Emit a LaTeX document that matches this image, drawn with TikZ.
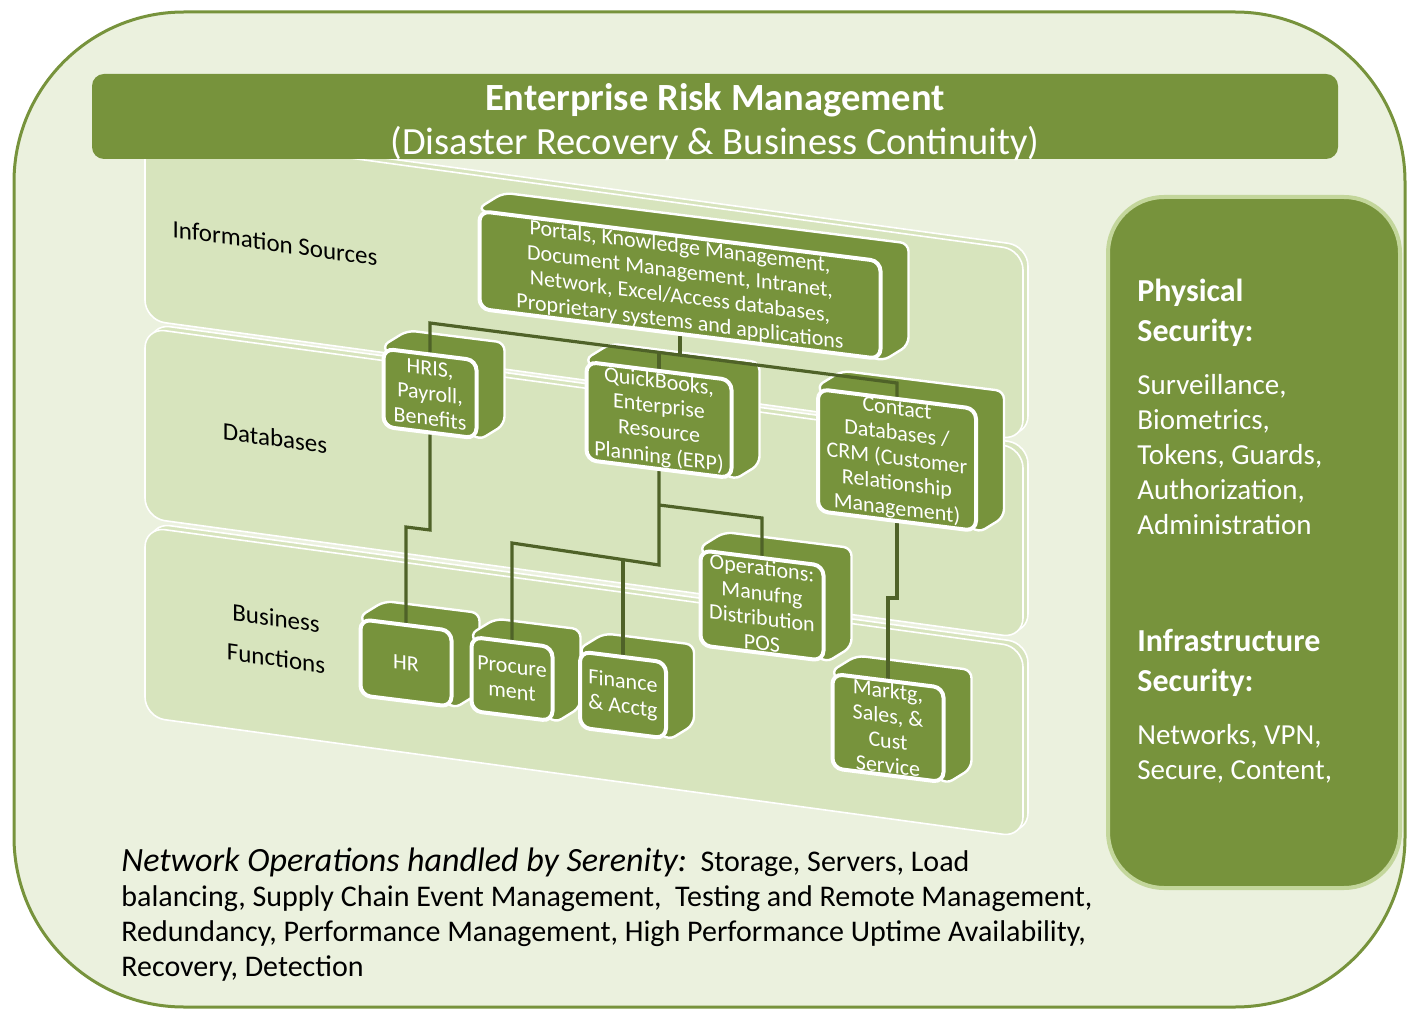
\documentclass[tikz,border=0pt]{standalone}
\usepackage{fontspec}
\setmainfont{Carlito}
\usetikzlibrary{calc}

\definecolor{ermgreen}{HTML}{77933C}
\definecolor{ermdark}{HTML}{4F6228}
\definecolor{ermpanel}{HTML}{D7E4BD}
\definecolor{ermbg}{HTML}{EBF1DE}
\definecolor{ermrim}{HTML}{C3D69B}

\pgfdeclarelayer{bg}
\pgfdeclarelayer{back}
\pgfdeclarelayer{wires}
\pgfsetlayers{bg,back,wires,main}

\tikzset{
  cube/.style={draw=white, line width=2pt, fill=ermgreen, rounded corners=5pt,
    text=white, align=center, inner sep=1pt, yslant=-0.125,
    font=\fontsize{11}{12.5}\selectfont},
  backface/.style={draw=white, line width=1.2pt, fill=ermgreen, rounded corners=4pt},
  wire/.style={draw=ermdark, line width=1.6pt},
  layer/.style={fill=ermpanel, draw=white, line width=0.8pt, rounded corners=10pt},
  tag/.style={text=black, align=center, inner sep=0pt, yslant=-0.14,
    font=\fontsize{12.5}{20}\selectfont},
  sechead/.style={text=white, align=left, inner sep=0pt,
    font=\bfseries\fontsize{16}{20}\selectfont},
  seclist/.style={text=white, align=left, inner sep=0pt,
    font=\fontsize{14.5}{17.5}\selectfont},
}

\begin{document}
\begin{tikzpicture}[x=0.5pt,y=-0.5pt]
  \useasboundingbox (0,0) rectangle (1408,1010);

  \begin{pgfonlayer}{bg}
    % Outer frame
    \draw[draw=ermgreen, fill=ermbg, line width=1.5pt, rounded corners=85pt]
      (14,12) rectangle (1405,1007);

    % For each layer ...
    \foreach \t in {130,328,527} {
      \draw[layer] (150,\t-4) -- (1028,\t+116) -- (1028,\t+306) -- (150,\t+186) -- cycle;
      \draw[layer] (145,\t) -- (1023,\t+120) -- (1023,\t+310) -- (145,\t+190) -- cycle;
    }
  \end{pgfonlayer}

  % Title bar
  \node[fill=ermgreen, rounded corners=6pt, minimum width=623pt, minimum height=42.5pt]
    (titlebar) at (715,116.5) {};
  \node[inner sep=0pt, text=white, align=center, font=\fontsize{19.25}{22}\selectfont]
    (title) at (715,122)
    {\textbf{Enterprise Risk Management}\\(Disaster Recovery \& Business Continuity)};

  % Layer labels
  \node[tag] (infotag) at (275,243) {Information Sources};
  \node[tag] (dbtag)   at (275,438) {Databases};
  \node[tag] (bftag)   at (276,638) {Business\\Functions};

  % Information sources
  \node[cube, minimum width=200.5pt, minimum height=46.5pt] (info) at (680,285)
    {Portals, Knowledge Management,\\Document Management, Intranet,\\
     Network, Excel/Access databases,\\Proprietary systems and applications};

  % Databases
  \node[cube, minimum width=46.5pt, minimum height=39pt] (hris) at (430,393.5)
    {HRIS,\\Payroll,\\Benefits};
  \node[cube, minimum width=72.5pt, minimum height=47pt] (qb) at (659,420)
    {QuickBooks,\\Enterprise\\Resource\\Planning (ERP)};
  \node[cube, minimum width=79pt, minimum height=54pt] (contact) at (897,460)
    {Contact\\Databases /\\CRM (Customer\\Relationship\\Management)};

  % Business functions
  \node[cube, minimum width=61.5pt, minimum height=47.5pt] (ops) at (762,605.5)
    {Operations:\\Manufng\\Distribution\\POS};
  \node[cube, minimum width=45.5pt, minimum height=38pt] (hr) at (406,663) {HR};
  \node[cube, minimum width=40.5pt, minimum height=37pt] (procure) at (512,679)
    {Procure\\ment};
  \node[cube, minimum width=43pt, minimum height=38pt] (finance) at (623,695)
    {Finance\\\& Acctg};
  \node[cube, minimum width=55.5pt, minimum height=45.5pt] (marktg) at (888,728)
    {Marktg,\\Sales, \&\\Cust\\Service};

  % Top and side of each box
  \begin{pgfonlayer}{back}
    \foreach \b in {info,hris,qb,contact,ops,hr,procure,finance,marktg}
      \filldraw[backface] (\b.north west) -- ($(\b.north west)+(26,-16)$)
        -- ($(\b.north east)+(26,-16)$) -- ($(\b.south east)+(26,-16)$)
        -- (\b.south east) -- cycle;
  \end{pgfonlayer}

  % Links between boxes
  \begin{pgfonlayer}{wires}
    \draw[wire] (hris) -- (hris |- 0,323) -- (contact |- 0,383) -- (contact);
    \draw[wire] (info) -- (info |- 0,355);
    \draw[wire] (qb) -- (qb |- 0,352);
    \draw[wire] (qb) -- (qb |- 0,565) -- (procure |- 0,543) -- (procure);
    \draw[wire] (finance) -- (finance |- 0,560);
    \draw[wire] (qb |- 0,505) -- (ops |- 0,518) -- (ops);
    \draw[wire] (hris) -- (hris |- 0,530) -- (hr |- 0,527) -- (hr);
    \draw[wire] (contact) -- (contact |- 0,598) -- (marktg |- 0,598) -- (marktg);
  \end{pgfonlayer}

  % Security panel
  \node[draw=ermrim, line width=2pt, fill=ermgreen, rounded corners=28pt,
    minimum width=146pt, minimum height=345.5pt] (security) at (1254,542.5) {};
  \node[sechead, anchor=north west] (phys) at (1137,279) {Physical\\Security:};
  \node[seclist, anchor=north west] (physlist) at (1137,374)
    {Surveillance,\\Biometrics,\\Tokens, Guards,\\Authorization,\\Administration};
  \node[sechead, anchor=north west] (infra) at (1137,629) {Infrastructure\\Security:};
  \node[seclist, anchor=north west] (infralist) at (1137,724)
    {Networks, VPN,\\Secure, Content,};

  % Network operations
  \node[anchor=north west, align=left, inner sep=0pt, text=black,
    font=\fontsize{15}{17.5}\selectfont] (netops) at (121,847)
    {{\fontsize{17}{17.5}\selectfont\itshape Network Operations handled by Serenity:}\ \ Storage, Servers, Load\\
     balancing, Supply Chain Event Management,\ \ Testing and Remote Management,\\
     Redundancy, Performance Management, High Performance Uptime Availability,\\
     Recovery, Detection};

\end{tikzpicture}
\end{document}
